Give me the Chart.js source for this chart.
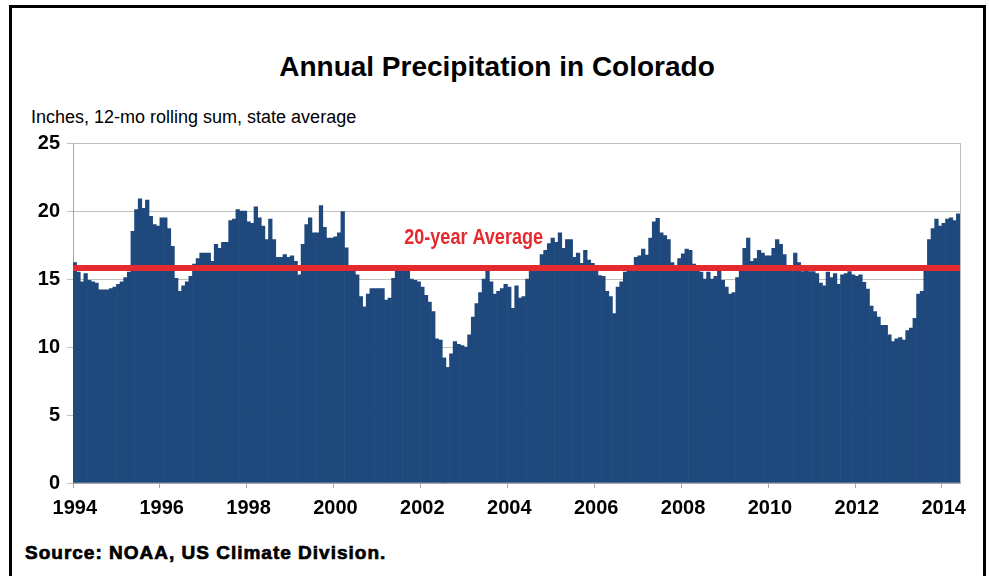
<!DOCTYPE html>
<html>
<head>
<meta charset="utf-8">
<script src="https://cdn.jsdelivr.net/npm/chart.js@4.4.1/dist/chart.umd.min.js"></script>
<style>
  body { margin: 0; width: 989px; height: 576px; position: relative; overflow: hidden; background: #fff; }
  .txt { position: absolute; white-space: nowrap; line-height: 1; color: #000; }
  #frame { position: absolute; left: 9px; top: 5px; width: 971px; height: 620px; border: 3px solid #000; }
  #title { left: 0; width: 994px; text-align: center; top: 51px; font: bold 28px 'Liberation Sans', Arial, sans-serif; }
  #ycap { left: 31px; top: 107px; font: 18px 'Liberation Sans', Arial, sans-serif; }
  #source { left: 25px; top: 542px; font: bold 19px 'Liberation Sans', Arial, sans-serif; letter-spacing: 1px; -webkit-text-stroke: 0.7px #000; }
  #wrap { position: absolute; left: 0; top: 0; }
</style>
</head>
<body>
<div id="frame"></div>
<div class="txt" id="title">Annual Precipitation in Colorado</div>
<div class="txt" id="ycap">Inches, 12-mo rolling sum, state average</div>
<div class="txt" id="source">Source: NOAA, US Climate Division.</div>
<div id="wrap"><canvas id="chart" width="989" height="576"></canvas></div>
<script>
// 12-month rolling precipitation, inches, Jan 1994 - May 2014
const precip = [
  16.2, 15.5, 14.8, 15.4, 14.9, 14.8, 14.7, 14.2, 14.2, 14.2, 14.3, 14.4, // 1994
  14.6, 14.8, 15.1, 15.5, 18.5, 20.1, 20.9, 20.2, 20.8, 19.6, 19.0, 18.9, // 1995
  19.5, 19.5, 18.7, 17.4, 15.05, 14.1, 14.5, 14.8, 15.2, 16.1, 16.5, 16.9, // 1996
  16.9, 16.9, 16.3, 17.55, 17.25, 17.7, 17.7, 19.3, 19.4, 20.1, 20.0, 20.0, // 1997
  19.2, 19.1, 20.3, 19.5, 18.9, 17.9, 19.4, 17.9, 16.6, 16.6, 16.8, 16.6, // 1998
  16.7, 16.3, 15.3, 17.55, 19.0, 19.5, 18.4, 18.4, 20.4, 18.8, 18.0, 18.0, // 1999
  18.1, 18.4, 19.95, 17.3, 16.0, 15.6, 15.3, 13.7, 12.96, 13.9, 14.3, 14.3, // 2000
  14.3, 14.3, 13.45, 13.6, 15.05, 15.6, 15.7, 15.8, 15.8, 15.0, 14.9, 14.8, // 2001
  14.4, 13.8, 13.3, 12.6, 10.6, 10.5, 9.2, 8.5, 9.5, 10.4, 10.2, 10.1,      // 2002
  10.0, 10.9, 12.2, 13.2, 14.0, 15.0, 15.6, 14.8, 13.9, 14.1, 14.3, 14.6,   // 2003
  14.4, 12.85, 14.5, 13.6, 13.7, 15.0, 15.6, 15.6, 15.9, 16.8, 17.1, 17.6,  // 2004
  18.0, 17.7, 18.4, 17.25, 17.9, 17.9, 16.6, 16.9, 16.15, 17.1, 16.4, 16.15, // 2005
  15.9, 15.25, 15.2, 14.1, 13.7, 12.45, 14.4, 14.8, 15.5, 15.8, 15.8, 16.6, // 2006
  16.7, 17.2, 16.75, 18.0, 19.2, 19.46, 18.4, 18.2, 17.9, 16.2, 15.6, 16.5, // 2007
  16.85, 17.2, 17.1, 16.1, 15.6, 15.5, 15.0, 15.5, 15.0, 15.2, 15.6, 14.9,  // 2008
  14.4, 13.9, 14.0, 15.1, 15.9, 17.25, 18.0, 16.3, 16.5, 17.1, 16.9, 16.7,  // 2009
  16.7, 17.25, 17.9, 17.55, 16.8, 15.9, 15.9, 16.9, 16.2, 15.55, 15.6, 15.55, // 2010
  15.55, 15.4, 14.7, 14.5, 15.5, 15.1, 15.4, 14.6, 15.3, 15.4, 15.55, 15.3, // 2011
  15.2, 15.3, 14.75, 14.25, 13.0, 12.6, 12.2, 11.6, 11.6, 10.9, 10.4, 10.6, // 2012
  10.7, 10.5, 11.2, 11.4, 12.1, 13.9, 14.1, 15.8, 17.9, 18.7, 19.4, 18.9,   // 2013
  19.1, 19.4, 19.5, 19.3, 19.8                                              // 2014
];
const startYear = 1994;
const yearTicks = ["1994", "1996", "1998", "2000", "2002", "2004", "2006", "2008", "2010", "2012", "2014"];
const avgValue = 15.8;
const avgLabel = "20-year Average";

const months = precip.map((_, i) => {
  const y = startYear + Math.floor(i / 12);
  const m = (i % 12) + 1;
  return y + "-" + String(m).padStart(2, "0");
});

const sans = "'Liberation Sans', Arial, sans-serif";
const blue = "#1f497d";
const red = "#e52a2f";
const gridGray = "#bfbfbf";

function yearOf(label) {
  return label.endsWith("-01") && yearTicks.includes(label.slice(0, 4)) ? label.slice(0, 4) : "";
}

// red average line + label, and right border of the plot
const avgPlugin = {
  id: "avgLine",
  afterDatasetsDraw(chart) {
    const { ctx, chartArea, scales: { x, y } } = chart;
    const py = y.getPixelForValue(avgValue);
    ctx.save();
    ctx.strokeStyle = red;
    ctx.lineWidth = 6;
    ctx.beginPath();
    ctx.moveTo(chartArea.left, py);
    ctx.lineTo(chartArea.right, py);
    ctx.stroke();

    // condensed bold label above the line
    ctx.save();
    ctx.translate(x.getPixelForValue(91), py - 24);
    ctx.scale(0.82, 1);
    ctx.fillStyle = red;
    ctx.font = "bold 22px " + sans;
    ctx.textBaseline = "alphabetic";
    ctx.fillText(avgLabel, 0, 0);
    ctx.restore();

    ctx.strokeStyle = gridGray;
    ctx.lineWidth = 1;
    ctx.beginPath();
    ctx.moveTo(chartArea.right + 0.5, chartArea.top);
    ctx.lineTo(chartArea.right + 0.5, chartArea.bottom);
    ctx.stroke();
    ctx.restore();
  }
};

new Chart(document.getElementById("chart"), {
  type: "bar",
  data: {
    labels: months,
    datasets: [{
      data: precip,
      backgroundColor: blue,
      borderWidth: 0,
      barPercentage: 1.0,
      categoryPercentage: 1.0
    }]
  },
  plugins: [avgPlugin],
  options: {
    responsive: false,
    animation: false,
    events: [],
    layout: { padding: { left: 0, top: 143, right: 29, bottom: 0 } },
    plugins: { legend: { display: false }, title: { display: false }, tooltip: { enabled: false } },
    scales: {
      x: {
        afterFit: s => { s.height = 93; },
        border: { display: true, color: "#a6a6a6", width: 1 },
        grid: {
          offset: true,
          drawOnChartArea: false,
          drawTicks: true,
          tickLength: 5,
          color: c => (c.tick && c.tick.label ? "#a6a6a6" : "rgba(0,0,0,0)")
        },
        ticks: {
          autoSkip: false,
          maxRotation: 0,
          minRotation: 0,
          padding: 8,
          color: "#000",
          font: { family: sans, size: 20, weight: "bold" },
          callback: function (v) { return yearOf(this.getLabelForValue(v)); }
        }
      },
      y: {
        min: 0,
        max: 25,
        afterFit: s => { s.width = 73; },
        border: { display: true, color: "#a6a6a6", width: 1 },
        grid: { color: gridGray, lineWidth: 1, tickLength: 6 },
        ticks: {
          stepSize: 5,
          padding: 7,
          color: "#000",
          font: { family: sans, size: 20, weight: "bold" }
        }
      }
    }
  }
});
</script>
</body>
</html>
